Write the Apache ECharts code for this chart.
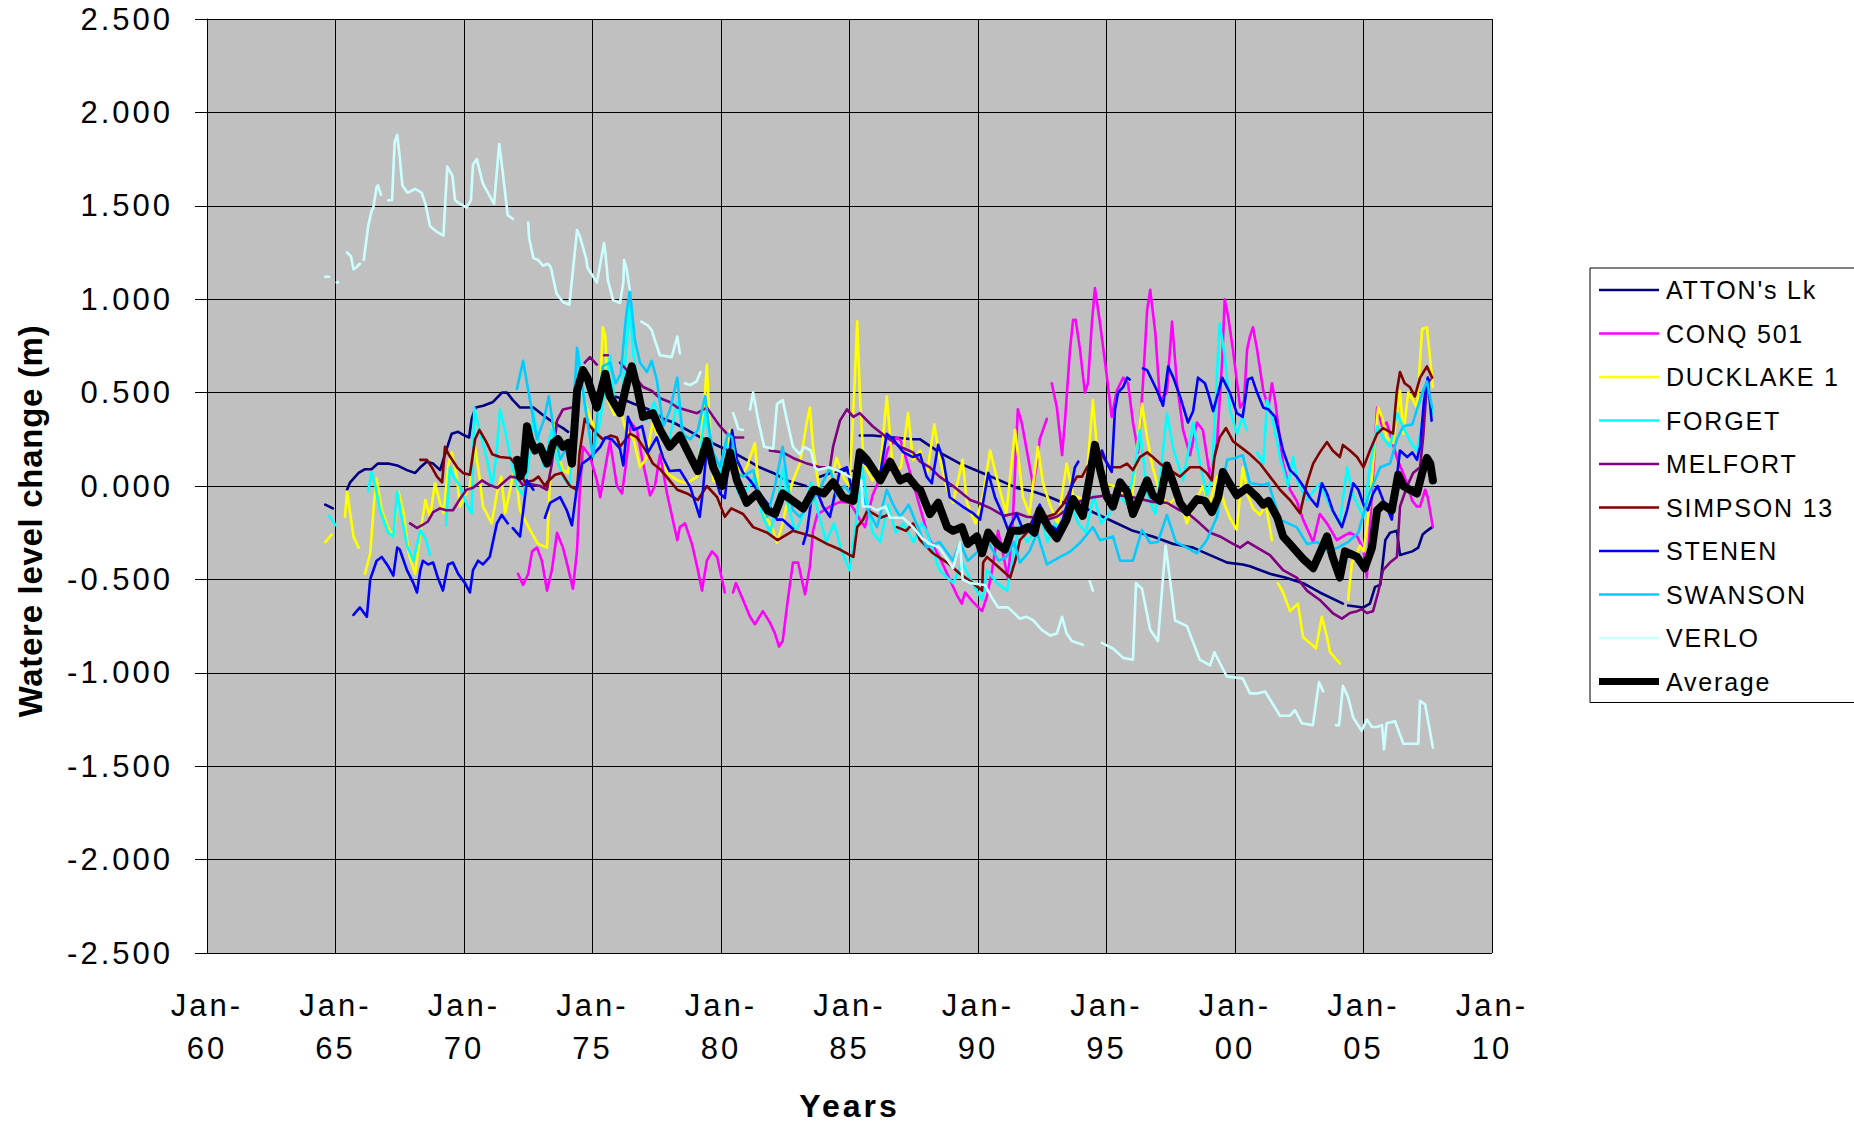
<!DOCTYPE html>
<html>
<head>
<meta charset="utf-8">
<title>Water level change</title>
<script src="https://cdn.jsdelivr.net/npm/echarts@6/dist/echarts.min.js"></script>
<style>
  html, body { margin: 0; padding: 0; background: #ffffff; }
  #chart { width: 1854px; height: 1125px; }
  /* wide, spreadsheet-style lettering */
  #chart text[style*="31px"] { letter-spacing: 3px; }
  #chart text[style*="32px"] { letter-spacing: 3px; }
  #chart text[style*="25px"] { letter-spacing: 1.8px; }
  #chart text[style*="33px"] { letter-spacing: 0.7px; }
</style>
</head>
<body>
<div id="chart"></div>
<script>
// Observation records: [decimal year, water level change in m]; null marks a break in the record.
const ATTONS_LK = [
  [1964.6,-0.10],[1964.9,-0.12],null,[1965.45,-0.02],[1965.57,0.02],[1965.9,0.07],[1966.15,0.09],[1966.4,0.09],
  [1966.65,0.12],[1967.05,0.12],[1967.4,0.11],[1967.78,0.085],[1968.1,0.07],[1968.3,0.10],[1968.55,0.13],[1968.8,0.12],
  [1969.07,0.085],[1969.33,0.20],[1969.52,0.28],[1969.77,0.29],[1970.03,0.27],[1970.2,0.26],[1970.3,0.36],[1970.45,0.42],
  [1970.75,0.43],[1971.13,0.45],[1971.48,0.50],[1971.67,0.50],[1971.9,0.46],[1972.18,0.42],[1972.7,0.42],[1973.07,0.38],
  [1973.47,0.34],[1973.85,0.31],[1974.05,0.29],null,[1975.0,0.50],[1975.6,0.49],[1976.1,0.47],[1976.6,0.44],[1977.0,0.42],
  [1977.35,0.40],[1977.75,0.36],[1978.15,0.34],[1978.68,0.30],[1979.2,0.26],[1979.96,0.21],[1980.47,0.18],[1981.0,0.14],
  [1981.5,0.10],[1982.03,0.07],[1982.57,0.03],[1983.07,0.01],[1983.3,0.0],null,[1983.85,0.05],[1984.36,0.075],[1984.9,0.085],
  [1985.1,0.08],null,[1985.4,0.27],[1985.9,0.27],[1986.7,0.26],[1987.47,0.25],[1987.75,0.25],[1988.5,0.18],[1989.3,0.12],
  [1990.08,0.075],[1990.85,0.03],[1991.5,-0.01],[1992.15,-0.03],[1992.8,-0.06],[1993.3,-0.09],[1993.97,-0.10],[1994.47,-0.14],
  [1995.25,-0.19],[1996.03,-0.24],[1996.8,-0.27],[1997.6,-0.31],[1998.37,-0.33],[1999.03,-0.37],[1999.7,-0.41],[2000.3,-0.42],
  [2000.58,-0.43],[2001.36,-0.47],[2001.95,-0.49],[2002.65,-0.52],[2003.3,-0.57],[2004.2,-0.63],null,[2004.4,-0.64],
  [2005.0,-0.65],[2005.25,-0.63],[2005.45,-0.54],[2005.65,-0.53],[2005.85,-0.29],[2006.03,-0.25],[2006.3,-0.24],
  [2006.42,-0.37],[2006.9,-0.35],[2007.13,-0.33],[2007.3,-0.26],[2007.47,-0.24],[2007.67,-0.22]
];

const CONQ_501 = [
  [1972.1,-0.47],[1972.3,-0.53],[1972.5,-0.47],[1972.65,-0.35],[1972.84,-0.33],[1973.03,-0.40],[1973.23,-0.56],[1973.42,-0.45],
  [1973.62,-0.25],[1973.85,-0.33],[1974.0,-0.41],[1974.24,-0.55],[1974.4,-0.34],[1974.5,-0.04],[1974.63,0.21],[1974.9,0.16],
  [1975.17,0.03],[1975.3,-0.06],[1975.5,0.10],[1975.68,0.24],[1975.95,0.0],[1976.15,-0.04],[1976.38,0.20],[1976.5,0.34],
  [1976.73,0.30],[1976.97,0.12],[1977.24,-0.05],[1977.43,0.0],[1977.63,0.17],[1977.9,-0.04],[1978.3,-0.29],[1978.4,-0.22],
  [1978.6,-0.20],[1978.87,-0.31],[1979.1,-0.45],[1979.26,-0.56],[1979.45,-0.40],[1979.65,-0.35],[1979.85,-0.38],[1980.15,-0.57],
  null,[1980.47,-0.57],[1980.58,-0.52],[1980.86,-0.61],[1981.13,-0.70],[1981.32,-0.74],[1981.63,-0.67],[1981.9,-0.73],
  [1982.1,-0.79],[1982.26,-0.86],[1982.4,-0.83],[1982.6,-0.61],[1982.8,-0.41],[1983.0,-0.41],[1983.27,-0.58],[1983.46,-0.43],
  [1983.58,-0.24],[1983.75,-0.15],[1984.0,-0.13],[1984.24,-0.11],[1984.63,-0.085],[1985.0,-0.09],[1985.2,-0.13],[1985.4,-0.18],
  [1985.6,-0.22],[1985.9,-0.05],[1986.2,0.05],[1986.5,0.20],[1986.85,0.26],[1987.0,0.24],[1987.3,0.10],[1987.63,-0.06],
  [1988.0,-0.24],[1988.13,-0.29],[1988.5,-0.38],[1988.8,-0.47],[1989.2,-0.59],[1989.37,-0.63],[1989.5,-0.57],[1989.8,-0.62],
  [1990.16,-0.67],[1990.35,-0.59],[1990.55,-0.45],[1990.78,-0.24],[1991.0,-0.38],[1991.17,-0.50],[1991.35,-0.20],[1991.55,0.41],
  [1991.7,0.34],[1991.9,0.19],[1992.15,0.0],[1992.33,0.155],[1992.4,0.25],[1992.68,0.36],null,[1992.87,0.55],[1993.07,0.42],
  [1993.27,0.165],[1993.38,0.34],[1993.58,0.73],[1993.7,0.89],[1993.8,0.89],[1993.97,0.73],[1994.16,0.50],[1994.28,0.55],
  [1994.43,0.87],[1994.55,1.06],[1994.75,0.87],[1995.02,0.58],[1995.2,0.37],[1995.4,0.51],[1995.65,0.58],[1995.84,0.55],
  [1996.03,0.34],[1996.23,0.18],[1996.42,0.55],[1996.58,0.94],[1996.7,1.05],[1996.9,0.82],[1997.08,0.46],[1997.35,0.50],
  [1997.47,0.73],[1997.55,0.88],[1997.74,0.55],[1997.98,0.30],[1998.25,0.165],[1998.52,0.34],[1998.75,0.30],[1999.03,0.05],
  [1999.3,0.23],[1999.5,0.67],[1999.6,1.0],[1999.73,0.91],[1999.92,0.73],[2000.2,0.42],[2000.35,0.45],[2000.47,0.73],
  [2000.58,0.80],[2000.7,0.85],[2000.86,0.73],[2001.1,0.51],[2001.3,0.42],[2001.44,0.55],[2001.56,0.46],[2001.87,0.12],
  [2002.14,-0.02],[2002.4,-0.08],[2002.65,-0.18],[2003.04,-0.30],[2003.3,-0.15],[2003.58,-0.20],[2003.96,-0.29],[2004.2,-0.27],
  [2004.47,-0.25],[2004.75,-0.27],[2005.0,-0.34],[2005.13,-0.49],[2005.3,-0.10],[2005.53,0.42],[2005.72,0.32],[2005.9,0.34],
  [2006.1,0.25],[2006.3,0.15],[2006.6,0.05],[2006.9,-0.08],[2007.08,-0.11],[2007.2,-0.11],[2007.4,-0.02],[2007.5,-0.06],
  [2007.7,-0.22]
];

const DUCKLAKE_1 = [
  [1964.6,-0.30],[1964.85,-0.26],null,[1965.37,-0.165],[1965.45,-0.03],[1965.7,-0.27],[1965.9,-0.33],null,[1966.15,-0.47],
  [1966.35,-0.36],[1966.5,-0.09],[1966.6,0.04],[1966.8,-0.13],[1967.05,-0.225],[1967.25,-0.27],[1967.45,-0.03],[1967.65,-0.145],
  [1967.85,-0.36],[1968.1,-0.47],[1968.3,-0.25],[1968.5,-0.075],[1968.68,-0.165],[1968.87,0.015],[1969.07,-0.09],[1969.2,-0.145],
  [1969.4,0.12],[1969.53,0.18],[1969.73,0.04],[1969.84,-0.11],[1970.05,-0.05],[1970.23,0.0],[1970.43,0.21],[1970.6,0.05],
  [1970.74,-0.11],[1971.08,-0.20],[1971.28,-0.04],[1971.45,0.05],[1971.6,-0.145],[1971.98,0.10],[1972.18,-0.13],[1972.57,-0.235],
  [1972.88,-0.31],[1973.23,-0.33],[1973.35,0.05],[1973.47,0.35],[1973.6,0.20],[1973.85,0.085],[1974.05,0.07],[1974.3,0.35],
  [1974.5,0.55],[1974.7,0.45],[1974.9,0.37],[1975.1,0.30],[1975.3,0.50],[1975.4,0.85],[1975.5,0.80],[1975.6,0.46],[1975.85,0.38],
  [1976.07,0.41],[1976.3,0.30],[1976.6,0.25],[1976.85,0.10],[1977.1,0.15],[1977.35,0.35],[1977.63,0.21],[1977.9,0.07],
  [1978.3,0.03],[1978.68,0.015],[1979.07,0.05],[1979.3,0.34],[1979.45,0.65],[1979.55,0.35],[1979.7,0.03],[1980.0,0.0],
  [1980.23,0.05],[1980.35,0.30],[1980.5,0.20],[1980.74,0.05],[1981.0,0.10],[1981.32,0.23],[1981.5,-0.075],[1981.8,-0.18],
  [1982.03,-0.235],[1982.18,-0.305],[1982.4,-0.2],[1982.6,-0.075],[1982.8,0.03],[1983.07,0.12],[1983.35,0.35],[1983.46,0.42],
  [1983.58,0.21],[1983.8,0.0],[1984.0,-0.05],[1984.24,0.0],[1984.5,0.15],[1984.75,0.05],[1985.0,0.0],[1985.2,0.55],[1985.3,0.88],
  [1985.4,0.50],[1985.55,0.12],[1985.9,0.03],[1986.2,0.10],[1986.45,0.48],[1986.7,0.07],[1987.0,0.10],[1987.28,0.39],
  [1987.47,0.14],[1987.75,0.19],[1988.0,0.05],[1988.3,0.33],[1988.5,0.155],[1988.8,-0.02],[1989.03,-0.09],[1989.4,0.14],
  [1989.57,-0.09],[1989.9,-0.20],[1990.2,-0.05],[1990.47,0.19],[1990.85,-0.02],[1991.1,-0.15],[1991.44,0.30],[1991.75,-0.06],
  [1992.0,-0.15],[1992.33,0.21],[1992.53,0.015],[1992.8,-0.10],[1993.1,-0.20],[1993.45,0.12],[1993.7,-0.05],[1994.16,-0.075],
  [1994.47,0.46],[1994.6,0.25],[1994.86,0.015],[1995.3,0.0],[1995.7,-0.05],[1996.0,-0.05],[1996.38,0.44],[1996.58,0.26],
  [1996.8,0.10],[1997.1,-0.05],[1997.4,-0.10],[1997.8,-0.05],[1998.13,-0.20],[1998.4,-0.10],[1998.75,0.0],[1999.0,-0.10],
  [1999.3,0.05],[1999.6,-0.10],[1999.8,-0.17],[2000.07,-0.235],[2000.3,0.10],[2000.5,-0.05],[2000.7,-0.12],[2000.97,-0.155],
  [2001.2,-0.10],[2001.44,-0.29],null,[2001.67,-0.52],[2001.87,-0.57],[2002.14,-0.67],[2002.45,-0.63],[2002.65,-0.81],
  [2002.92,-0.84],[2003.15,-0.87],[2003.38,-0.70],[2003.58,-0.81],[2003.7,-0.89],[2004.08,-0.95],null,[2004.4,-0.61],
  [2004.55,-0.41],[2004.75,-0.36],[2004.86,-0.32],[2005.0,-0.35],[2005.25,-0.09],[2005.37,0.12],[2005.57,0.42],[2005.72,0.37],
  [2005.9,0.26],[2006.15,0.23],[2006.42,0.51],[2006.55,0.28],[2006.74,0.50],[2006.93,0.46],[2007.08,0.42],[2007.28,0.84],
  [2007.47,0.85],[2007.6,0.67],[2007.7,0.53]
];

const FORGET = [
  [1964.75,-0.16],[1965.0,-0.21],null,[1966.27,-0.03],[1966.4,0.075],[1966.55,0.0],[1966.73,-0.13],[1967.05,-0.25],
  [1967.25,-0.27],[1967.4,-0.03],[1967.55,-0.15],[1967.78,-0.32],[1968.03,-0.40],[1968.3,-0.235],[1968.5,-0.28],[1968.68,-0.37],
  null,[1969.3,-0.21],[1969.45,0.10],[1969.6,0.05],[1969.84,0.0],[1970.1,-0.10],[1970.3,-0.145],[1970.4,0.42],[1970.6,0.30],
  [1970.9,0.14],[1971.1,0.0],[1971.25,0.15],[1971.4,0.41],[1971.6,0.30],[1971.8,0.155],[1972.06,0.0],[1972.3,-0.05],
  [1972.5,0.10],[1972.7,0.40],[1972.9,0.25],[1973.1,0.10],[1973.4,0.30],[1973.6,0.15],[1973.85,0.05],[1974.1,0.0],
  [1974.3,0.30],[1974.45,0.72],[1974.6,0.55],[1974.8,0.35],[1975.02,0.155],[1975.3,0.35],[1975.5,0.55],[1975.7,0.70],
  [1975.85,0.45],[1976.07,0.40],[1976.3,0.70],[1976.45,0.98],[1976.6,0.70],[1976.85,0.45],[1977.1,0.35],[1977.4,0.45],
  [1977.7,0.30],[1978.0,0.25],[1978.3,0.45],[1978.5,0.30],[1978.8,0.15],[1979.1,0.10],[1979.4,0.40],[1979.6,0.20],
  [1979.9,0.0],[1980.2,0.25],[1980.4,0.10],[1980.7,-0.05],[1981.0,-0.02],[1981.3,0.05],[1981.6,-0.15],[1981.9,-0.25],
  [1982.2,-0.10],[1982.4,0.10],[1982.6,-0.10],[1982.9,-0.25],[1983.2,-0.15],[1983.5,0.02],[1983.8,-0.15],[1984.1,-0.30],
  [1984.4,-0.20],[1984.7,-0.35],[1985.0,-0.45],[1985.3,-0.15],[1985.5,0.10],[1985.7,-0.10],[1985.9,-0.25],[1986.2,-0.30],
  [1986.5,-0.10],[1986.8,-0.25],[1987.1,-0.20],[1987.5,-0.30],[1987.8,-0.20],[1988.0,-0.24],[1988.5,-0.45],[1989.03,-0.52],
  [1989.4,-0.41],[1989.7,-0.50],[1990.16,-0.61],[1990.35,-0.45],[1990.74,-0.52],[1991.13,-0.56],[1991.4,-0.35],[1991.63,-0.20],
  [1991.9,-0.30],[1992.2,-0.25],[1992.4,-0.145],[1992.7,-0.30],[1993.0,-0.20],[1993.3,-0.25],[1993.6,-0.10],[1993.9,-0.20],
  [1994.2,-0.25],[1994.5,-0.05],[1994.8,-0.20],[1995.1,-0.15],[1995.5,-0.05],[1995.8,-0.10],[1996.1,0.10],[1996.3,0.30],
  [1996.6,-0.05],[1996.9,-0.15],[1997.1,0.05],[1997.35,0.39],[1997.6,0.20],[1997.98,0.03],[1998.2,0.20],[1998.37,0.34],
  [1998.6,0.15],[1998.9,-0.05],[1999.1,0.05],[1999.4,0.87],[1999.6,0.70],[1999.8,0.41],[2000.07,0.28],[2000.3,0.37],
  [2000.45,0.30],null,[2000.86,0.18],[2001.1,0.12],[2001.25,0.46],[2001.44,0.37],[2001.75,0.155],[2002.06,0.0],
  [2002.26,0.155],[2002.45,0.015],[2002.8,-0.075],[2003.3,0.015],[2003.7,-0.11],[2004.08,-0.20],[2004.36,0.10],[2004.6,-0.05],
  [2005.0,-0.165],[2005.25,0.10],[2005.53,0.32],[2005.8,0.25],[2006.03,0.21],[2006.3,0.39],[2006.6,0.30],[2006.9,0.22],
  [2007.08,0.19],[2007.3,0.35],[2007.47,0.51],[2007.7,0.39]
];

const MELFORT = [
  [1967.9,-0.20],[1968.17,-0.225],[1968.37,-0.21],[1968.6,-0.19],[1968.8,-0.14],[1969.07,-0.12],[1969.3,-0.13],[1969.57,-0.13],
  [1969.84,-0.07],[1970.1,-0.02],[1970.35,-0.01],[1970.7,0.03],[1971.0,0.005],[1971.3,-0.01],[1971.5,0.015],[1971.8,0.05],
  [1972.06,0.045],[1972.3,0.005],[1972.57,0.01],[1972.96,0.0],[1973.23,-0.02],[1973.42,0.12],[1973.62,0.35],[1973.85,0.41],
  [1974.2,0.42],null,[1974.7,0.66],[1974.9,0.69],[1975.17,0.65],null,[1975.45,0.70],[1975.6,0.70],null,[1976.07,0.66],
  [1976.34,0.62],[1976.73,0.57],[1976.97,0.53],[1977.3,0.51],[1977.63,0.47],[1978.0,0.45],[1978.3,0.42],[1978.8,0.40],
  [1979.07,0.39],[1979.45,0.42],[1979.7,0.37],[1979.96,0.32],[1980.23,0.28],[1980.47,0.26],[1980.86,0.26],null,[1981.9,0.19],
  [1982.4,0.18],[1982.8,0.15],[1983.35,0.12],[1983.85,0.10],[1984.24,0.10],[1984.36,0.21],[1984.63,0.35],[1984.9,0.41],
  [1985.15,0.37],[1985.4,0.39],[1985.9,0.32],[1986.45,0.26],[1986.97,0.21],[1987.47,0.18],[1987.75,0.13],[1988.13,0.10],
  [1988.5,0.05],[1989.03,0.0],[1989.7,-0.075],[1990.0,-0.09],[1990.5,-0.12],[1991.0,-0.16],[1991.5,-0.145],[1991.9,-0.165],
  [1992.3,-0.17],[1992.68,-0.18],[1993.07,-0.165],[1993.5,-0.12],[1994.0,-0.08],[1994.47,-0.06],[1995.0,-0.05],[1995.53,-0.05],
  [1996.03,-0.06],[1996.8,-0.085],[1997.35,-0.09],[1997.86,-0.13],[1998.25,-0.155],[1998.63,-0.20],[1999.03,-0.25],
  [1999.42,-0.27],[1999.8,-0.30],[2000.2,-0.33],[2000.5,-0.30],[2000.86,-0.33],[2001.36,-0.37],[2001.87,-0.45],[2002.4,-0.49],
  [2002.8,-0.56],[2003.3,-0.61],[2003.8,-0.68],[2004.16,-0.71],[2004.47,-0.68],[2004.75,-0.67],[2004.93,-0.66],[2005.13,-0.68],
  [2005.37,-0.67],[2005.57,-0.57],[2005.76,-0.45],[2006.03,-0.41],[2006.3,-0.38],[2006.42,-0.11],[2006.7,0.0],[2006.93,0.07],
  [2007.2,0.10],[2007.32,0.26],[2007.47,0.55],[2007.6,0.57]
];

const SIMPSON_13 = [
  [1968.3,0.14],[1968.55,0.14],[1968.75,0.10],[1968.95,0.05],[1969.15,0.02],[1969.26,0.21],[1969.4,0.17],[1969.73,0.10],
  [1969.96,0.07],[1970.23,0.06],[1970.43,0.25],[1970.6,0.30],[1970.85,0.24],[1971.1,0.17],[1971.4,0.155],[1971.8,0.15],
  [1972.18,0.085],[1972.37,0.02],[1972.7,0.03],[1972.9,0.05],[1973.15,0.0],[1973.23,0.02],[1973.54,0.06],[1973.8,0.07],
  [1974.12,0.0],[1974.4,-0.02],[1974.5,0.18],[1974.7,0.36],[1974.9,0.32],[1975.17,0.28],[1975.4,0.25],[1975.7,0.27],
  [1975.95,0.26],[1976.07,0.21],[1976.46,0.28],[1976.73,0.26],[1977.12,0.18],[1977.35,0.12],[1977.63,0.09],[1978.0,0.03],
  [1978.3,-0.02],[1978.68,-0.04],[1979.1,-0.075],[1979.45,0.0],[1979.85,-0.06],[1980.15,-0.165],[1980.4,-0.12],[1980.86,-0.15],
  [1981.25,-0.22],[1981.8,-0.25],[1982.2,-0.29],[1982.8,-0.24],[1983.3,-0.26],[1983.58,-0.27],[1984.12,-0.31],[1984.63,-0.34],
  [1985.15,-0.38],[1985.3,-0.22],[1985.53,-0.18],[1985.7,-0.13],[1985.9,-0.145],[1986.2,-0.17],[1986.5,-0.155],null,
  [1986.85,-0.22],[1987.2,-0.24],[1987.47,-0.20],[1987.75,-0.29],[1988.25,-0.36],[1988.8,-0.41],[1989.3,-0.47],[1989.8,-0.52],
  [1990.16,-0.56],[1990.2,-0.41],[1990.35,-0.38],[1990.6,-0.41],[1990.93,-0.45],[1991.25,-0.49],[1991.45,-0.40],[1991.63,-0.29],
  [1991.9,-0.25],[1992.3,-0.13],[1992.68,-0.165],[1993.0,-0.15],[1993.3,-0.10],[1993.5,-0.05],[1993.7,0.015],[1993.85,0.05],
  [1994.05,0.05],[1994.24,0.10],[1994.75,0.18],[1995.13,0.10],[1995.53,0.10],[1995.8,0.12],[1996.03,0.085],[1996.3,0.155],
  [1996.58,0.18],[1996.8,0.155],[1997.08,0.12],[1997.47,0.085],[1997.86,0.05],[1998.25,0.10],[1998.63,0.10],[1998.9,0.07],
  [1999.1,0.03],[1999.2,0.155],[1999.4,0.26],[1999.65,0.31],[1999.92,0.24],[2000.3,0.20],[2000.58,0.17],[2000.97,0.12],
  [2001.36,0.05],[2001.75,-0.02],[2002.14,-0.075],[2002.53,-0.145],[2002.8,0.015],[2003.04,0.12],[2003.3,0.18],[2003.58,0.235],
  [2003.8,0.19],[2004.08,0.155],[2004.2,0.22],[2004.47,0.19],[2004.75,0.155],[2005.0,0.10],[2005.25,0.19],[2005.53,0.28],
  [2005.76,0.31],[2006.15,0.28],[2006.3,0.51],[2006.42,0.61],[2006.6,0.55],[2006.8,0.53],[2007.0,0.48],[2007.2,0.58],
  [2007.47,0.64],[2007.67,0.58]
];

const STENEN = [
  [1965.7,-0.69],[1965.95,-0.65],[1966.22,-0.70],[1966.35,-0.50],[1966.6,-0.40],[1966.8,-0.38],[1967.05,-0.43],[1967.25,-0.48],
  [1967.4,-0.33],[1967.5,-0.34],[1967.78,-0.45],[1968.03,-0.52],[1968.17,-0.57],[1968.3,-0.45],[1968.4,-0.40],[1968.6,-0.42],
  [1968.8,-0.41],[1968.98,-0.49],[1969.18,-0.56],[1969.38,-0.42],[1969.57,-0.41],[1969.77,-0.47],[1970.04,-0.52],[1970.23,-0.57],
  [1970.35,-0.45],[1970.55,-0.40],[1970.74,-0.42],[1971.0,-0.38],[1971.28,-0.20],[1971.47,-0.155],[1971.7,-0.20],null,
  [1971.9,-0.225],[1972.18,-0.27],[1972.45,0.03],[1972.7,-0.02],null,[1973.15,-0.17],[1973.35,-0.09],[1973.74,-0.06],
  [1974.0,-0.13],[1974.2,-0.21],[1974.4,0.0],[1974.6,0.12],[1974.9,0.15],[1975.3,0.21],[1975.5,0.26],[1975.75,0.25],
  [1976.07,0.20],[1976.2,0.11],[1976.38,0.37],[1976.6,0.30],[1976.93,0.32],[1977.16,0.18],[1977.5,0.26],[1977.75,0.15],
  [1978.0,0.08],[1978.4,0.085],[1978.8,-0.005],[1979.17,-0.165],[1979.3,-0.02],[1979.45,0.21],[1979.7,0.085],[1979.96,-0.04],
  [1980.15,-0.065],[1980.43,0.30],[1980.62,0.14],[1980.86,0.07],[1981.13,0.03],[1981.4,-0.02],[1981.9,-0.11],[1982.18,-0.18],
  [1982.4,-0.18],[1982.8,-0.23],null,[1983.2,-0.31],[1983.35,-0.24],[1983.55,-0.04],[1983.74,-0.03],[1983.97,-0.11],
  [1984.24,-0.165],[1984.63,0.085],[1984.9,0.10],[1985.15,-0.06],[1985.4,0.14],[1985.8,0.10],[1986.2,0.07],[1986.45,0.28],
  [1986.7,0.25],[1987.1,0.18],[1987.47,0.155],[1987.75,0.17],[1988.0,0.05],[1988.2,0.015],[1988.45,0.22],[1988.65,0.14],
  [1988.9,-0.06],[1989.4,-0.11],[1989.8,-0.145],[1990.08,-0.18],[1990.4,0.07],[1990.66,-0.06],[1990.93,-0.145],[1991.17,-0.235],
  [1991.5,-0.15],[1991.8,-0.25],[1992.1,-0.20],[1992.4,-0.10],[1992.7,-0.20],[1993.07,-0.235],[1993.3,-0.18],[1993.58,-0.04],
  [1993.77,0.10],[1993.9,0.13],null,[1994.82,0.19],[1995.02,0.12],[1995.2,0.075],[1995.33,0.41],[1995.45,0.50],[1995.65,0.53],
  [1995.8,0.58],[1995.9,0.57],null,[1996.42,0.63],[1996.58,0.62],[1996.97,0.51],[1997.2,0.43],[1997.4,0.64],[1997.6,0.58],
  [1997.86,0.48],[1998.17,0.34],[1998.37,0.40],[1998.56,0.58],[1998.83,0.55],[1998.95,0.50],[1999.15,0.40],[1999.5,0.58],
  [1999.8,0.50],[2000.07,0.39],[2000.3,0.37],[2000.5,0.57],[2000.66,0.58],[2000.86,0.50],[2001.1,0.42],[2001.3,0.41],
  [2001.56,0.37],[2001.87,0.19],[2002.14,0.085],[2002.4,0.05],[2002.65,0.0],[2002.9,-0.06],[2003.2,-0.11],[2003.38,0.015],
  [2003.58,-0.04],[2003.8,-0.13],[2004.16,-0.22],[2004.36,-0.13],[2004.6,0.015],[2004.8,-0.02],[2005.0,-0.10],[2005.17,-0.13],
  [2005.37,-0.04],[2005.55,0.0],[2005.76,-0.075],[2005.95,-0.13],[2006.1,-0.18],[2006.42,0.19],[2006.7,0.155],[2006.9,0.18],
  [2007.08,0.14],[2007.2,0.21],[2007.35,0.45],[2007.5,0.58],[2007.65,0.35]
];

const SWANSON = [
  [1972.06,0.52],[1972.3,0.67],[1972.45,0.55],[1972.84,0.25],[1973.1,0.35],[1973.3,0.48],[1973.47,0.32],[1973.74,0.14],
  [1974.0,0.21],[1974.2,0.28],[1974.4,0.74],[1974.63,0.50],[1975.02,0.155],[1975.2,0.40],[1975.4,0.64],[1975.68,0.66],
  [1975.9,0.55],[1976.1,0.60],[1976.3,0.90],[1976.45,1.05],[1976.65,0.78],[1976.85,0.66],[1977.12,0.61],[1977.3,0.67],
  [1977.5,0.57],[1977.75,0.32],[1978.0,0.40],[1978.3,0.58],[1978.5,0.28],[1978.8,0.25],[1979.1,0.30],[1979.38,0.48],
  [1979.57,0.28],[1979.7,0.18],[1979.96,0.10],[1980.27,0.28],[1980.43,0.26],[1980.62,0.07],[1980.86,0.05],[1981.25,0.085],
  [1981.5,-0.05],[1981.8,-0.165],[1982.1,0.0],[1982.4,0.21],[1982.6,0.0],[1982.8,-0.13],[1983.07,-0.165],[1983.58,-0.075],
  [1983.9,0.0],[1984.24,0.10],[1984.5,-0.05],[1984.8,0.0],[1985.1,-0.05],[1985.3,0.085],[1985.6,-0.10],[1986.07,-0.22],
  [1986.45,-0.02],[1986.7,-0.10],[1986.97,-0.165],[1987.3,-0.10],[1987.75,-0.25],[1988.0,-0.33],[1988.5,-0.30],[1989.03,-0.40],
  [1989.3,-0.30],[1989.6,-0.40],[1990.0,-0.35],[1990.4,-0.30],[1990.8,-0.40],[1991.1,-0.38],[1991.4,-0.30],[1991.63,-0.41],
  [1992.0,-0.35],[1992.3,-0.25],[1992.68,-0.42],[1993.2,-0.38],[1993.6,-0.35],[1994.0,-0.30],[1994.47,-0.22],[1994.75,-0.29],
  [1995.25,-0.27],[1995.53,-0.40],[1996.03,-0.40],[1996.38,-0.235],[1996.7,-0.305],[1997.0,-0.30],[1997.35,-0.155],
  [1997.7,-0.30],[1998.13,-0.33],[1998.52,-0.36],[1998.9,-0.29],[1999.3,-0.165],[1999.55,0.05],[1999.7,0.14],[2000.0,0.15],
  [2000.3,0.165],[2000.58,0.015],[2001.1,0.005],[2001.3,0.015],[2001.75,-0.18],[2002.4,-0.22],[2002.8,-0.31],[2003.2,-0.30],
  [2003.6,-0.35],[2004.0,-0.33],[2004.4,-0.30],[2004.8,-0.25],[2005.2,-0.05],[2005.65,0.10],[2006.03,0.12],[2006.3,0.25],
  [2006.55,0.32],[2006.9,0.33],[2007.08,0.41],[2007.32,0.51],[2007.47,0.56],[2007.67,0.42]
];

const VERLO = [
  [1964.6,1.12],[1964.75,1.12],null,[1965.05,1.09],[1965.1,1.09],null,[1965.45,1.25],[1965.6,1.23],[1965.7,1.16],[1965.8,1.17],
  [1965.95,1.19],null,[1966.1,1.21],[1966.27,1.39],[1966.4,1.47],[1966.47,1.49],[1966.6,1.60],[1966.65,1.61],[1966.77,1.56],
  null,[1967.05,1.53],[1967.2,1.53],[1967.3,1.84],[1967.4,1.88],[1967.5,1.76],[1967.6,1.61],[1967.8,1.57],[1968.1,1.59],
  [1968.35,1.57],[1968.5,1.51],[1968.68,1.39],[1968.95,1.36],[1969.2,1.34],[1969.35,1.71],[1969.55,1.66],[1969.65,1.53],
  [1969.85,1.51],[1970.1,1.49],[1970.27,1.53],[1970.35,1.72],[1970.5,1.75],[1970.73,1.62],[1970.93,1.57],[1971.17,1.51],
  [1971.37,1.83],[1971.5,1.69],[1971.7,1.45],[1971.9,1.43],null,[1972.5,1.41],[1972.53,1.33],[1972.7,1.22],[1972.88,1.21],
  [1973.07,1.18],[1973.27,1.19],[1973.38,1.17],[1973.6,1.03],[1973.85,0.985],[1974.1,0.97],[1974.4,1.37],[1974.5,1.34],
  [1974.75,1.22],[1974.8,1.17],[1975.17,1.09],[1975.45,1.30],[1975.5,1.25],[1975.6,1.10],[1975.8,0.995],[1976.07,0.98],
  [1976.2,1.09],[1976.23,1.21],[1976.33,1.16],[1976.45,1.05],null,[1976.9,0.88],[1977.15,0.86],[1977.3,0.835],[1977.62,0.70],
  [1978.08,0.69],[1978.3,0.80],[1978.4,0.71],null,[1978.6,0.55],[1978.8,0.54],[1979.05,0.56],[1979.2,0.61],null,[1980.47,0.39],
  [1980.58,0.35],[1980.67,0.305],[1980.85,0.30],null,[1981.13,0.41],[1981.25,0.50],[1981.45,0.35],[1981.68,0.21],[1982.03,0.20],
  [1982.18,0.44],[1982.4,0.46],[1982.57,0.35],[1982.8,0.21],[1983.07,0.17],[1983.23,0.21],[1983.5,0.19],[1983.65,0.10],
  [1983.78,0.085],[1984.17,0.10],[1984.6,0.08],[1985.0,0.05],[1985.45,0.03],[1985.53,-0.11],[1985.8,-0.11],[1986.07,-0.13],
  [1986.4,-0.11],[1986.58,-0.17],[1987.08,-0.17],[1987.47,-0.22],[1987.82,-0.28],[1988.13,-0.31],[1988.5,-0.33],[1989.03,-0.44],
  [1989.3,-0.30],[1989.4,-0.50],[1989.7,-0.52],[1990.27,-0.53],[1990.55,-0.60],[1990.78,-0.65],[1991.17,-0.65],[1991.63,-0.71],
  [1991.9,-0.70],[1992.15,-0.72],[1992.48,-0.77],[1992.8,-0.80],[1993.07,-0.79],[1993.27,-0.70],[1993.45,-0.79],[1993.65,-0.83],
  [1994.08,-0.85],null,[1994.35,-0.51],[1994.47,-0.56],null,[1994.82,-0.84],[1995.25,-0.87],[1995.65,-0.92],[1996.03,-0.93],
  [1996.15,-0.52],[1996.38,-0.55],[1996.7,-0.77],[1997.0,-0.83],[1997.3,-0.32],[1997.47,-0.50],[1997.67,-0.72],[1998.13,-0.75],
  [1998.63,-0.93],[1999.03,-0.96],[1999.2,-0.89],[1999.68,-1.02],[2000.3,-1.03],[2000.58,-1.11],[2000.9,-1.11],[2001.17,-1.10],
  [2001.75,-1.23],[2002.13,-1.23],[2002.33,-1.20],[2002.6,-1.27],[2003.03,-1.28],[2003.27,-1.05],[2003.43,-1.10],null,
  [2003.93,-1.28],[2004.05,-1.28],[2004.2,-1.07],[2004.4,-1.13],[2004.6,-1.24],[2004.93,-1.31],[2005.13,-1.25],[2005.33,-1.29],
  [2005.53,-1.29],[2005.72,-1.28],[2005.8,-1.41],[2005.9,-1.27],[2006.23,-1.26],[2006.55,-1.38],[2007.13,-1.38],[2007.2,-1.15],
  [2007.4,-1.17],[2007.7,-1.40]
];

const AVERAGE = [
  [1972.06,0.14],[1972.18,0.05],[1972.3,0.08],[1972.45,0.32],[1972.57,0.25],[1972.76,0.19],[1972.96,0.21],[1973.23,0.12],
  [1973.47,0.23],[1973.66,0.25],[1973.85,0.21],[1974.05,0.23],[1974.2,0.12],[1974.4,0.51],[1974.63,0.62],[1974.8,0.58],
  [1974.98,0.50],[1975.17,0.42],[1975.37,0.53],[1975.5,0.60],[1975.68,0.48],[1976.07,0.39],[1976.34,0.55],[1976.53,0.64],
  [1976.73,0.53],[1976.97,0.37],[1977.35,0.39],[1977.63,0.30],[1978.0,0.21],[1978.4,0.27],[1978.8,0.16],[1979.1,0.08],
  [1979.45,0.24],[1979.7,0.10],[1980.04,0.0],[1980.35,0.18],[1980.62,0.03],[1981.0,-0.09],[1981.4,-0.04],[1981.8,-0.13],
  [1982.1,-0.15],[1982.4,-0.04],[1982.8,-0.08],[1983.2,-0.12],[1983.6,-0.02],[1984.0,-0.04],[1984.36,0.02],[1984.75,-0.06],
  [1985.15,-0.08],[1985.4,0.18],[1985.68,0.14],[1986.2,0.03],[1986.58,0.13],[1986.97,0.03],[1987.28,0.05],[1987.63,-0.01],
  [1987.75,-0.02],[1988.13,-0.15],[1988.45,-0.09],[1988.8,-0.22],[1989.03,-0.24],[1989.37,-0.22],[1989.6,-0.31],[1989.96,-0.27],
  [1990.16,-0.36],[1990.4,-0.25],[1990.74,-0.31],[1991.05,-0.34],[1991.3,-0.24],[1991.63,-0.24],[1991.95,-0.22],[1992.2,-0.25],
  [1992.4,-0.13],[1992.73,-0.22],[1993.07,-0.28],[1993.45,-0.18],[1993.7,-0.07],[1994.08,-0.16],[1994.35,0.05],[1994.55,0.22],
  [1994.75,0.09],[1995.02,-0.06],[1995.25,-0.11],[1995.53,0.02],[1995.8,-0.03],[1996.03,-0.15],[1996.3,-0.06],[1996.58,0.03],
  [1996.8,-0.05],[1997.08,-0.08],[1997.35,0.11],[1997.6,0.015],[1997.86,-0.09],[1998.13,-0.14],[1998.52,-0.07],[1998.83,-0.08],
  [1999.1,-0.14],[1999.35,-0.06],[1999.53,0.075],[1999.8,0.01],[2000.07,-0.05],[2000.47,-0.01],[2000.86,-0.06],[2001.1,-0.10],
  [2001.3,-0.08],[2001.65,-0.17],[2001.87,-0.27],[2002.26,-0.33],[2002.65,-0.39],[2003.04,-0.44],[2003.3,-0.36],[2003.58,-0.27],
  [2003.8,-0.38],[2004.08,-0.49],[2004.28,-0.35],[2004.75,-0.38],[2005.05,-0.44],[2005.33,-0.33],[2005.53,-0.13],[2005.76,-0.10],
  [2006.1,-0.13],[2006.35,0.06],[2006.55,0.0],[2006.8,-0.02],[2007.08,-0.04],[2007.28,0.07],[2007.47,0.15],[2007.6,0.12],
  [2007.7,0.03]
];

// Axis ticks
const X_TICK_YEARS = [1960, 1965, 1970, 1975, 1980, 1985, 1990, 1995, 2000, 2005, 2010];
const X_TICK_LABELS = ['Jan-\n60', 'Jan-\n65', 'Jan-\n70', 'Jan-\n75', 'Jan-\n80', 'Jan-\n85', 'Jan-\n90', 'Jan-\n95', 'Jan-\n00', 'Jan-\n05', 'Jan-\n10'];
const Y_TICK_LABELS = ['-2.500', '-2.000', '-1.500', '-1.000', '-0.500', '0.000', '0.500', '1.000', '1.500', '2.000', '2.500'];

const SERIES_NAMES = ["ATTON's Lk", 'CONQ 501', 'DUCKLAKE 1', 'FORGET', 'MELFORT', 'SIMPSON 13', 'STENEN', 'SWANSON', 'VERLO', 'Average'];
const SERIES_DATA = [ATTONS_LK, CONQ_501, DUCKLAKE_1, FORGET, MELFORT, SIMPSON_13, STENEN, SWANSON, VERLO, AVERAGE];
const SERIES_COLORS = ['#000080', '#ff00ff', '#ffff00', '#00ffff', '#800080', '#800000', '#0000ff', '#00ccff', '#ccffff', '#000000'];

const THIN = 2.6, THICK = 8;

// Turn null entries into empty points so the line breaks there.
function withBreaks(points) {
  const out = [];
  for (let i = 0; i < points.length; i++) {
    const p = points[i];
    if (p === null) {
      const a = points[i - 1], b = points[i + 1];
      out.push([(a[0] + b[0]) / 2, '-']);
    } else {
      out.push(p);
    }
  }
  return out;
}

// Legend key: a plain horizontal stroke of the series' width.
function keyIcon(w) {
  return 'path://M0,0H60V' + w + 'H0Z';
}

const FONT = '"Liberation Sans", Arial, sans-serif';

const chart = echarts.init(document.getElementById('chart'), null, { renderer: 'svg' });

chart.setOption({
  animation: false,
  backgroundColor: '#ffffff',
  grid: {
    left: 207, right: 362, top: 19, bottom: 172,
    containLabel: false,
    outerBoundsMode: 'none',
    show: true, backgroundColor: '#c0c0c0', borderWidth: 0
  },
  legend: {
    orient: 'vertical',
    left: 1590, top: 268,
    selectedMode: false,
    backgroundColor: '#ffffff',
    borderColor: '#000000', borderWidth: 1, borderRadius: 0,
    padding: [9, 40, 8, 9],
    itemWidth: 60, itemHeight: 14, itemGap: 17.5,
    symbolKeepAspect: true,
    textStyle: { fontFamily: FONT, fontSize: 25, color: '#000', lineHeight: 26, padding: [0, 0, 0, 2] },
    data: SERIES_NAMES.map(function (name, i) {
      return {
        name: name,
        icon: keyIcon(name === 'Average' ? 7 : 2.4),
        itemStyle: { color: SERIES_COLORS[i] }
      };
    })
  },
  xAxis: {
    type: 'value',
    min: 1960, max: 2010, interval: 5,
    name: 'Years',
    nameLocation: 'middle',
    nameGap: 137,
    nameTextStyle: { fontFamily: FONT, fontSize: 32, fontWeight: 'bold', color: '#000' },
    axisLine: { show: true, lineStyle: { color: '#000', width: 1 } },
    axisTick: { show: true, inside: false, length: 8, lineStyle: { color: '#000' } },
    axisLabel: {
      fontFamily: FONT, fontSize: 31, color: '#000', lineHeight: 43, margin: 31,
      formatter: function (v) {
        const i = X_TICK_YEARS.indexOf(Math.round(v));
        return i >= 0 ? X_TICK_LABELS[i] : '';
      }
    },
    splitLine: { show: true, lineStyle: { color: '#000', width: 1 } }
  },
  yAxis: {
    type: 'value',
    min: -2.5, max: 2.5, interval: 0.5,
    axisLine: { show: true, lineStyle: { color: '#000', width: 1 } },
    axisTick: { show: true, inside: false, length: 12, lineStyle: { color: '#000' } },
    axisLabel: {
      fontFamily: FONT, fontSize: 31, color: '#000', margin: 34,
      formatter: function (v) {
        const i = Math.round((v + 2.5) / 0.5);
        return Y_TICK_LABELS[i];
      }
    },
    splitLine: { show: true, lineStyle: { color: '#000', width: 1 } }
  },
  graphic: [{
    type: 'text',
    x: 30, y: 521,
    rotation: Math.PI / 2,
    style: {
      text: 'Watere level change (m)',
      fontFamily: FONT, fontSize: 33, fontWeight: 'bold', fill: '#000',
      align: 'center', verticalAlign: 'middle'
    }
  }],
  series: SERIES_NAMES.map(function (name, i) {
    const isAvg = name === 'Average';
    return {
      name: name,
      type: 'line',
      data: withBreaks(SERIES_DATA[i]),
      showSymbol: false,
      symbol: 'none',
      connectNulls: false,
      smooth: false,
      color: SERIES_COLORS[i],
      lineStyle: { color: SERIES_COLORS[i], width: isAvg ? THICK : THIN, join: 'round', cap: 'round' },
      z: isAvg ? 5 : 2
    };
  })
});
</script>
</body>
</html>
